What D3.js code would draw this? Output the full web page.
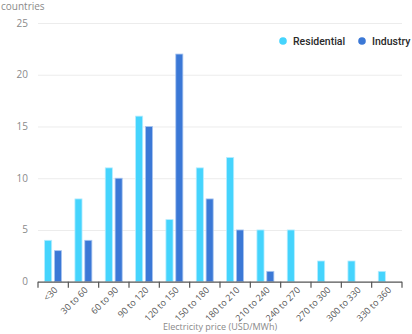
<!DOCTYPE html>
<html>
<head>
<meta charset="utf-8">
<script src="https://cdn.jsdelivr.net/npm/d3@7"></script>
<style>
  html, body { margin: 0; padding: 0; background: #fff; }
  svg { display: block; font-family: "Open Sans", "Noto Sans", sans-serif; }
</style>
</head>
<body>
<svg id="chart" width="412" height="334"></svg>
<script>
// Price bands (USD/MWh)
const categories = ["<30", "30 to 60", "60 to 90", "90 to 120", "120 to 150", "150 to 180",
  "180 to 210", "210 to 240", "240 to 270", "270 to 300", "300 to 330", "330 to 360"];
// Number of countries in each band
const residential = [4, 8, 11, 16, 6, 11, 12, 5, 5, 2, 2, 1];
const industry = [3, 4, 10, 15, 22, 8, 5, 1, 0, 0, 0, 0];
const seriesNames = ["Residential", "Industry"];
const yTicks = [0, 5, 10, 15, 20, 25];

const colors = { Residential: "#45d4fd", Industry: "#3b78d6" };
const strokes = { Residential: "#b5ecff", Industry: "#a9c6f0" };

const svg = d3.select("#chart");
const x0 = 38, x1 = 402, yTop = 23, yBase = 281.7;

const x = d3.scaleBand().domain(categories).range([x0, x1]).paddingInner(0).paddingOuter(0);
const xs = d3.scaleBand().domain(seriesNames).range([6.6, x.bandwidth() - 6.8]).paddingInner(0.28);
const y = d3.scaleLinear().domain([0, 25]).range([yBase, yTop]);

// Gridlines
svg.append("g").selectAll("line").data(yTicks.filter(d => d > 0)).join("line")
  .attr("x1", x0).attr("x2", x1)
  .attr("y1", d => y(d) + 0.5).attr("y2", d => y(d) + 0.5)
  .attr("stroke", "#ececec").attr("stroke-width", 1);

// Y tick labels
svg.append("g").selectAll("text").data(yTicks).join("text")
  .attr("x", 28).attr("y", d => y(d) + 3.5)
  .attr("text-anchor", "end").attr("font-size", 10).attr("fill", "#8a8a8a")
  .text(d => d);

// Y axis title
svg.append("text").attr("x", 1).attr("y", 10)
  .attr("font-size", 10).attr("fill", "#8a8a8a").text("countries");

// Bars
const data = categories.map((c, i) => ({ c, vals: [
  { s: "Residential", v: residential[i] }, { s: "Industry", v: industry[i] }] }));

const groups = svg.append("g").selectAll("g").data(data).join("g")
  .attr("transform", d => `translate(${x(d.c)},0)`);
groups.selectAll("rect").data(d => d.vals.filter(v => v.v > 0)).join("rect")
  .attr("x", d => xs(d.s))
  .attr("width", xs.bandwidth())
  .attr("y", d => y(d.v))
  .attr("height", d => yBase - y(d.v))
  .attr("fill", d => colors[d.s])
  .attr("stroke", d => strokes[d.s]).attr("stroke-width", 0.8);

// X axis line and boundary ticks
const ax = svg.append("g").attr("transform", `translate(0,${yBase})`);
ax.append("line").attr("x1", x0).attr("x2", x1).attr("y1", 0.5).attr("y2", 0.5)
  .attr("stroke", "#555").attr("stroke-width", 1.2);
ax.selectAll("line.tk").data(d3.range(categories.length + 1)).join("line")
  .attr("class", "tk")
  .attr("x1", i => x0 + i * x.step()).attr("x2", i => x0 + i * x.step())
  .attr("y1", 0).attr("y2", 6).attr("stroke", "#555").attr("stroke-width", 1.2);

// Rotated category labels
svg.append("g").selectAll("text").data(categories).join("text")
  .attr("transform", d => `translate(${x(d) + x.bandwidth() / 2 + 5},${yBase + 9}) rotate(-45)`)
  .attr("text-anchor", "end").attr("font-size", 9).attr("fill", "#555")
  .text(d => d);

// X axis title
svg.append("text").attr("x", 220).attr("y", 330)
  .attr("text-anchor", "middle").attr("font-size", 9).attr("fill", "#8a8a8a")
  .text("Electricity price (USD/MWh)");

// Legend
const legend = svg.append("g").attr("transform", "translate(283,41)");
const legendX = [0, 79];
seriesNames.forEach((s, i) => {
  const g = legend.append("g").attr("transform", `translate(${legendX[i]},0)`);
  g.append("circle").attr("r", 3.8).attr("fill", colors[s]);
  g.append("text").attr("x", 10).attr("y", 4).attr("font-size", 10.5)
    .attr("font-family", "Roboto, sans-serif")
    .attr("font-weight", 500).attr("fill", "#2a2a2a").text(s);
});
</script>
</body>
</html>
